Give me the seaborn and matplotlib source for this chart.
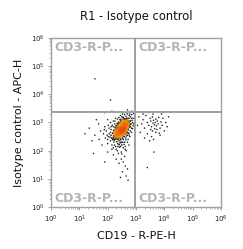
import numpy as np
import pandas as pd
import matplotlib
matplotlib.use("Agg")
import matplotlib.pyplot as plt
from matplotlib.colors import LinearSegmentedColormap
from matplotlib.transforms import blended_transform_factory
import seaborn as sns

# ---- data (log10 values) ----
core_lx = [2.20, 2.25, 2.28, 2.30, 2.33, 2.35, 2.37, 2.40, 2.42, 2.44, 2.46, 2.48, 2.50, 2.52, 2.54, 2.56, 2.58, 2.60,
           2.62, 2.64, 2.66, 2.68, 2.70, 2.72, 2.74, 2.66, 2.60, 2.55, 2.50, 2.45, 2.40, 2.35, 2.30, 2.25, 2.22, 2.38,
           2.45, 2.52, 2.58, 2.64, 2.70, 2.76, 2.43, 2.48, 2.56, 2.62, 2.32, 2.28, 2.40, 2.50, 2.55, 2.47, 2.53, 2.59,
           2.65, 2.42, 2.36, 2.33, 2.27, 2.57, 2.63, 2.69, 2.51, 2.44, 2.49, 2.61, 2.67, 2.39, 2.34, 2.58,
           2.55, 2.60, 2.65, 2.70, 2.48, 2.42, 2.62, 2.68, 2.74, 2.52, 2.35, 2.30, 2.40, 2.45, 2.52, 2.58, 2.28, 2.26,
           2.38, 2.50, 2.46, 2.48, 2.54, 2.56, 2.60, 2.66, 2.42, 2.38, 2.32, 2.44]
core_ly = [2.45, 2.50, 2.42, 2.55, 2.48, 2.60, 2.53, 2.65, 2.58, 2.70, 2.63, 2.75, 2.68, 2.80, 2.73, 2.85, 2.78, 2.90,
           2.83, 2.95, 2.88, 3.00, 2.94, 3.05, 3.00, 3.08, 3.02, 2.95, 2.90, 2.82, 2.76, 2.70, 2.63, 2.58, 2.52, 2.45,
           2.52, 2.60, 2.68, 2.76, 2.84, 2.92, 2.90, 2.96, 3.05, 3.12, 2.78, 2.70, 2.85, 2.62, 2.70, 2.72, 2.84, 2.86,
           2.92, 2.66, 2.62, 2.52, 2.47, 2.93, 2.99, 3.02, 2.77, 2.60, 2.67, 2.79, 2.96, 2.72, 2.57, 2.74,
           2.62, 2.66, 2.70, 2.78, 2.55, 2.50, 2.72, 2.85, 2.88, 2.55, 2.80, 2.74, 2.92, 2.98, 3.02, 3.10, 2.62, 2.66,
           2.88, 3.00, 2.78, 2.84, 2.88, 2.78, 2.95, 3.02, 2.74, 2.66, 2.66, 2.56]
halo_lx = [2.05, 2.10, 2.12, 2.15, 2.18, 2.08, 2.20, 2.22, 2.25, 2.28, 2.30, 2.35, 2.38, 2.40, 2.45, 2.48, 2.52, 2.55,
           2.58, 2.62, 2.65, 2.68, 2.72, 2.75, 2.78, 2.80, 2.82, 2.85, 2.86, 2.76, 2.70, 2.88, 2.02, 1.98, 1.95, 2.00,
           2.15, 2.30, 2.42, 2.50, 2.60, 2.55, 2.40, 2.32, 2.18, 2.12, 2.24, 2.36, 2.46, 2.66, 2.74, 2.80, 2.84, 2.90,
           2.64, 2.70, 2.20, 2.35, 2.50, 2.60, 2.45, 2.28, 2.10, 2.00, 1.90, 1.85, 1.75, 1.70, 1.68, 1.80, 2.55, 2.65,
           2.48, 2.38, 2.62, 2.72, 2.78, 2.90, 2.92, 2.58,
           2.00, 2.05, 2.10, 2.14, 2.16, 2.22, 2.24, 2.26, 2.34, 2.36, 2.44, 2.46, 2.54, 2.56, 2.64, 2.68, 2.76, 2.80,
           2.84, 2.88, 2.92, 2.78, 2.66, 2.52, 2.40, 2.26, 2.12, 2.02, 1.92, 1.88, 2.58, 2.70, 2.34, 2.20, 2.45, 2.50,
           2.62, 2.75, 2.95, 2.85]
halo_ly = [2.60, 2.35, 2.75, 2.20, 2.62, 2.48, 2.85, 2.30, 2.95, 2.15, 2.88, 2.25, 3.00, 2.35, 3.10, 2.30, 2.45, 3.18,
           2.50, 2.60, 3.22, 2.65, 2.75, 3.15, 2.85, 3.20, 2.95, 3.28, 3.08, 3.25, 3.30, 3.00, 2.90, 2.55, 2.70, 2.25,
           2.05, 2.05, 2.12, 2.20, 2.30, 2.40, 2.22, 2.32, 2.40, 2.55, 2.38, 2.42, 2.40, 2.52, 2.62, 2.70, 2.80, 2.88,
           2.45, 2.55, 3.05, 3.12, 3.20, 3.28, 3.25, 3.15, 3.00, 3.10, 2.85, 2.60, 2.70, 2.40, 2.95, 2.20, 2.10, 2.00,
           1.95, 1.90, 2.15, 2.40, 2.50, 3.15, 3.32, 3.35,
           2.40, 2.80, 2.65, 2.45, 2.90, 2.72, 2.20, 2.82, 2.95, 2.15, 2.28, 3.05, 2.30, 3.12, 2.38, 3.15, 2.55, 3.05,
           2.65, 2.78, 2.95, 3.30, 3.35, 3.30, 3.18, 3.05, 2.85, 2.50, 2.45, 2.75, 2.22, 2.30, 2.00, 2.10, 2.15, 1.88,
           2.05, 2.20, 3.05, 3.15]
tail_lx = [2.60, 2.48, 2.55, 2.62, 2.40, 2.70, 2.52, 2.65, 2.45, 2.72, 1.55, 1.45, 1.35, 1.20, 1.60, 1.90, 2.15, 2.70,
           2.85, 2.20, 2.00, 1.50, 2.95, 2.30, 1.90, 1.55, 2.10]
tail_ly = [1.80, 1.70, 1.60, 1.45, 1.55, 1.35, 1.25, 1.10, 1.05, 0.95, 2.55, 2.35, 2.80, 2.60, 3.10, 3.35, 3.40, 3.45,
           3.40, 1.85, 1.95, 1.90, 2.20, 1.70, 1.60, 4.55, 3.80]
right_lx = [3.10, 3.20, 3.25, 3.30, 3.35, 3.40, 3.45, 3.50, 3.52, 3.55, 3.58, 3.60, 3.62, 3.65, 3.68, 3.70, 3.72, 3.75,
            3.78, 3.80, 3.85, 3.88, 3.92, 3.95, 4.00, 4.05, 4.10, 3.40, 3.55, 3.70, 3.62, 3.48, 3.30, 3.15, 3.05, 3.85,
            3.90, 3.60, 3.45, 3.66, 3.58, 3.74, 3.82, 3.52, 3.63, 3.40, 4.15, 3.25]
right_ly = [3.20, 2.95, 3.10, 2.80, 3.25, 3.00, 2.90, 3.15, 3.05, 2.85, 3.20, 2.98, 3.08, 2.92, 3.00, 3.12, 2.88, 3.05,
            2.95, 3.18, 2.80, 3.02, 2.90, 3.15, 2.70, 3.00, 2.85, 2.60, 2.50, 2.65, 2.40, 2.35, 2.45, 2.65, 2.90, 2.55,
            3.30, 3.30, 3.35, 2.78, 2.70, 2.75, 2.62, 2.75, 1.95, 1.40, 3.20, 3.30]

x_divider = 900
y_divider = 2400
quad_label = "CD3-R-P..."
title = "R1 - Isotype control"
xlabel = "CD19 - R-PE-H"
ylabel = "Isotype control - APC-H"
tick_exps = [0, 1, 2, 3, 4, 5, 6]

# ---- build frame ----
lx = np.array(core_lx + halo_lx + tail_lx + right_lx)
ly = np.array(core_ly + halo_ly + tail_ly + right_ly)
d = np.hypot(lx[:, None] - lx[None, :], ly[:, None] - ly[None, :])
dens = (d < 0.13).sum(axis=1).astype(float)
df = pd.DataFrame({"x": 10 ** lx, "y": 10 ** ly, "dens": dens})
df = df.sort_values("dens")

sns.set_theme(style="white")
plt.rcParams["font.family"] = ["DejaVu Sans"]

fig = plt.figure(figsize=(2.43, 2.49), dpi=100)
ax = fig.add_axes([51 / 243, 1 - 207 / 249, 170 / 243, 169 / 249])

cmap = LinearSegmentedColormap.from_list(
    "flow", ["#1a1a1a", "#2a2418", "#c89a10", "#ff9a00", "#f47010", "#e84a10"])
dmax = df["dens"].max()
dlo = 0.3 * dmax
sns.scatterplot(data=df, x="x", y="y", hue="dens", palette=cmap, hue_norm=(dlo, dmax),
                size="dens", size_norm=(dlo, dmax), sizes=(1.2, 10), linewidth=0,
                legend=False, ax=ax)

ax.set_xscale("log")
ax.set_yscale("log")
ax.set_xlim(1, 1e6)
ax.set_ylim(1, 1e6)

gray = "#a0a0a0"
ax.axvline(x_divider, color=gray, lw=1.4)
ax.axhline(y_divider, color=gray, lw=1.4)
for s in ax.spines.values():
    s.set_color(gray)
    s.set_linewidth(1.0)

ax.set_xticks([10 ** e for e in tick_exps])
ax.set_yticks([10 ** e for e in tick_exps])
ax.set_xticklabels([f"$10^{{{e}}}$" for e in tick_exps])
ax.set_yticklabels([f"$10^{{{e}}}$" for e in tick_exps])
ax.xaxis.set_minor_locator(matplotlib.ticker.LogLocator(base=10, subs=np.arange(2, 10), numticks=20))
ax.yaxis.set_minor_locator(matplotlib.ticker.LogLocator(base=10, subs=np.arange(2, 10), numticks=20))
ax.xaxis.set_minor_formatter(matplotlib.ticker.NullFormatter())
ax.yaxis.set_minor_formatter(matplotlib.ticker.NullFormatter())
ax.tick_params(axis="both", which="major", direction="out", length=2.5, width=0.7,
               color=gray, labelsize=5, pad=2, labelcolor="#222222")
ax.tick_params(axis="both", which="minor", direction="out", length=1.5, width=0.5, color=gray)
ax.tick_params(bottom=True, left=True, which="both")

ax.set_xlabel(xlabel, fontsize=8, color="#111111", labelpad=5)
ax.set_ylabel(ylabel, fontsize=8, color="#111111", labelpad=5)
ax.set_title(title, fontsize=8.3, color="#111111", pad=13)

qcol = "#b4b4b4"
tr = blended_transform_factory(ax.transData, ax.transAxes)
kw = dict(fontsize=9, fontweight="bold", color=qcol)
ax.text(0.02, 0.985, quad_label, transform=ax.transAxes, va="top", ha="left", **kw)
ax.text(x_divider * 1.35, 0.985, quad_label, transform=tr, va="top", ha="left", **kw)
ax.text(0.02, 0.01, quad_label, transform=ax.transAxes, va="bottom", ha="left", **kw)
ax.text(x_divider * 1.35, 0.01, quad_label, transform=tr, va="bottom", ha="left", **kw)

fig.savefig("out.png", dpi=100, facecolor="white")
